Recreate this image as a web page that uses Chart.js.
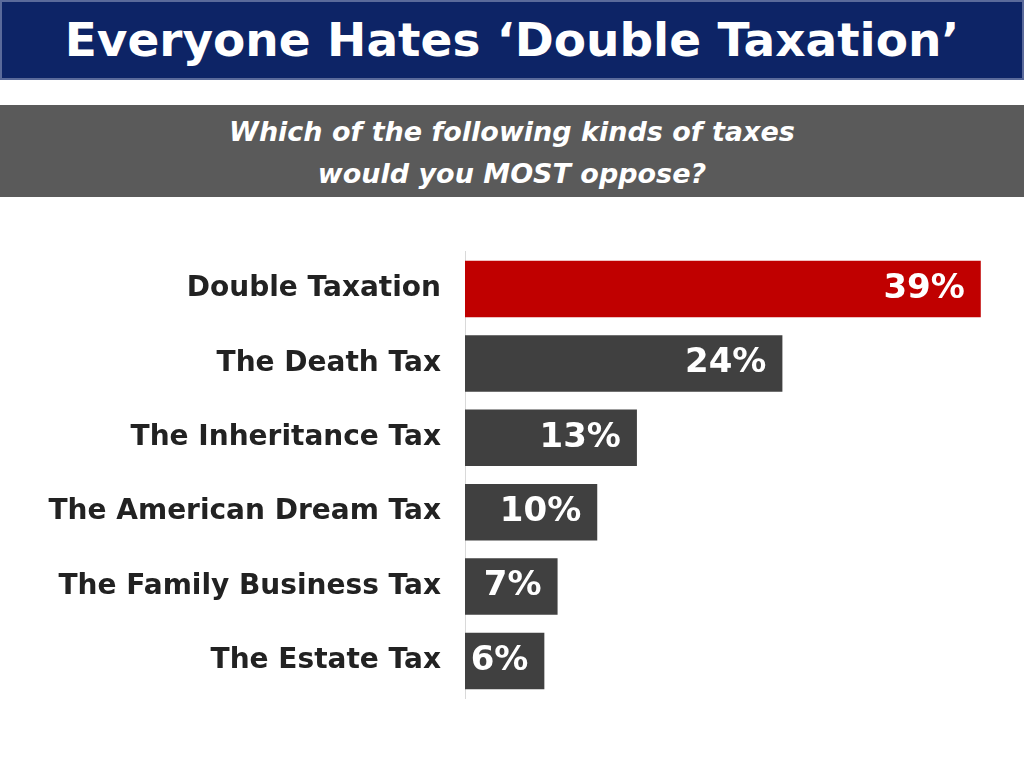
<!DOCTYPE html>
<html><head><meta charset="utf-8">
<script src="https://cdn.jsdelivr.net/npm/chart.js@4"></script>
<style>
body{margin:0;width:1024px;height:768px;background:#fff;position:relative;overflow:hidden;font-family:"DejaVu Sans",sans-serif}
#title{position:absolute;left:0;top:0;width:1020px;height:76px;background:#0d2466;border:2px solid #5a6a9a;color:#fff;font-weight:bold;font-size:47px;text-align:center;line-height:76px}
#sub{position:absolute;left:0;top:105px;width:1024px;height:92px;background:#5a5a5a;color:#fff;font-style:italic;font-weight:bold;font-size:27px;text-align:center;line-height:42px;padding-top:6px;box-sizing:border-box}
#c{position:absolute;left:0;top:211px}
</style></head><body>
<div id="title">Everyone Hates ‘Double Taxation’</div>
<div id="sub">Which of the following kinds of taxes<br>would you MOST oppose?</div>
<canvas id="c" width="1024" height="528" style="width:1024px;height:528px"></canvas>
<script>
const categories=["Double Taxation","The Death Tax","The Inheritance Tax","The American Dream Tax","The Family Business Tax","The Estate Tax"];
const values=[39,24,13,10,7,6];
const colors=["#c00000","#404040","#404040","#404040","#404040","#404040"];
const labelPlugin={id:'lbl',afterDatasetsDraw(chart){
 const ctx=chart.ctx;const meta=chart.getDatasetMeta(0);
 ctx.save();ctx.fillStyle='#fff';ctx.font='bold 34px "DejaVu Sans",sans-serif';ctx.textAlign='right';ctx.textBaseline='middle';
 meta.data.forEach((b,i)=>{ctx.fillText(values[i]+'%',b.x-16,b.y);});ctx.restore();}};
new Chart(document.getElementById('c'),{type:'bar',
 data:{labels:categories,datasets:[{data:values,backgroundColor:colors,barPercentage:0.76,categoryPercentage:1}]},
 options:{indexAxis:'y',responsive:false,animation:false,
  layout:{padding:{right:30,top:0,bottom:0,left:0}},
  plugins:{legend:{display:false},tooltip:{enabled:false}},
  scales:{x:{display:false,min:0,max:40},
   y:{afterFit(s){s.width=465;},grid:{display:false,drawTicks:false},border:{color:'#d9d9d9',width:1},
    ticks:{padding:24,color:'#222',font:{size:28,weight:'bold',family:'"DejaVu Sans",sans-serif'}}}}},
 plugins:[labelPlugin]});
</script></body></html>
